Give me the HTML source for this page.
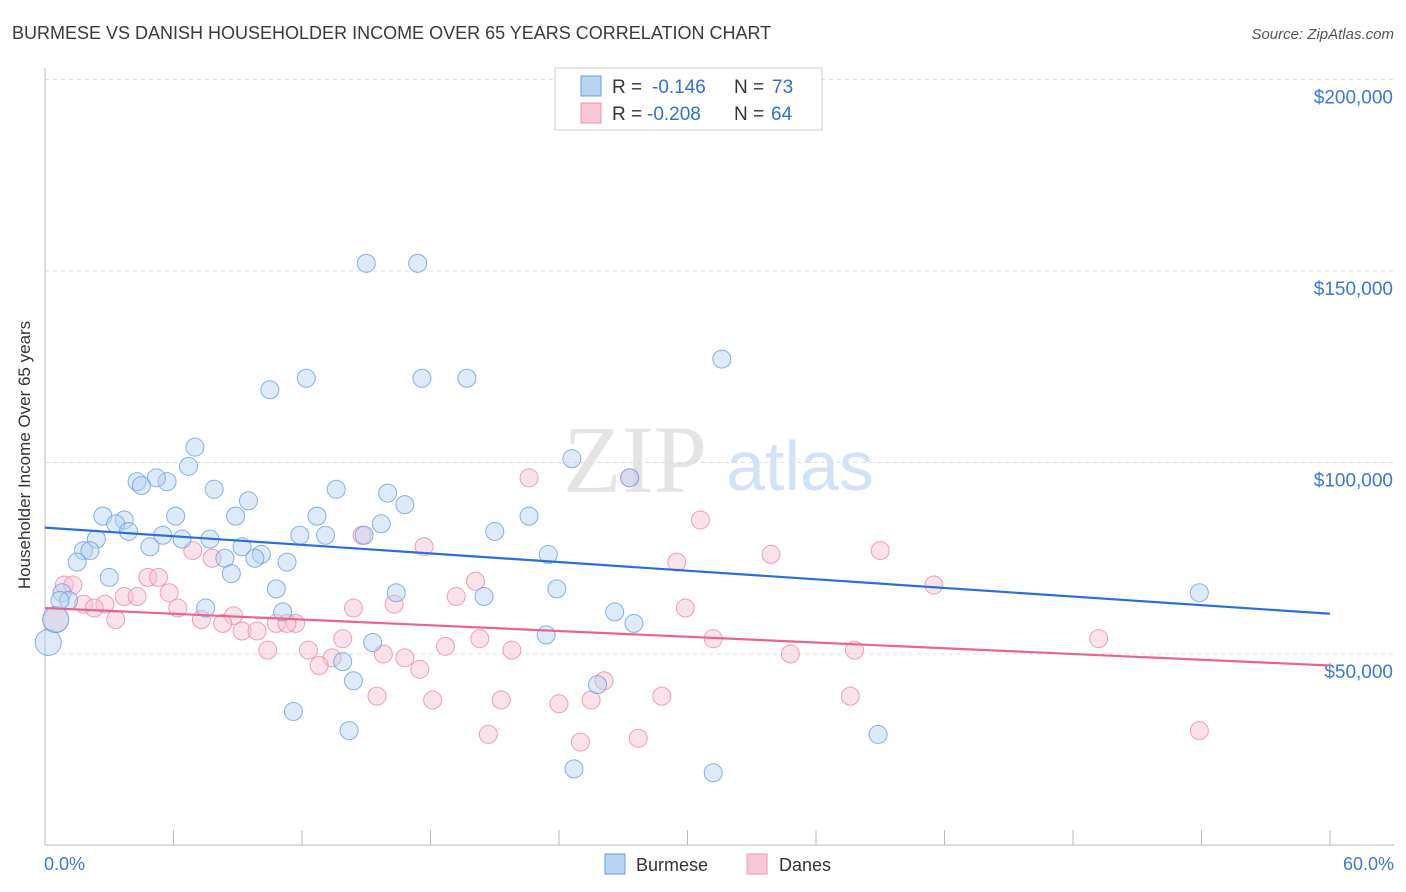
<!DOCTYPE html>
<html><head><meta charset="utf-8"><style>
body{margin:0;background:#fff;font-family:"Liberation Sans",sans-serif;}
svg{display:block}
</style></head><body>
<svg id="chart" width="1406" height="892" xmlns="http://www.w3.org/2000/svg">
<text x="12" y="39" font-size="18" fill="#3a3a3a">BURMESE VS DANISH HOUSEHOLDER INCOME OVER 65 YEARS CORRELATION CHART</text>
<text x="1394" y="39" font-size="15" fill="#555" text-anchor="end" font-style="italic">Source: ZipAtlas.com</text>
<text x="30" y="455" font-size="17" fill="#333" text-anchor="middle" transform="rotate(-90 30 455)">Householder Income Over 65 years</text>
<g><text x="635" y="492" font-size="96" fill="#e4e4e4" text-anchor="middle" font-family="Liberation Serif,serif">ZIP</text><text x="800" y="490" font-size="70" fill="#d3e2f4" text-anchor="middle">atlas</text></g>
<g id="grid"></g><g id="pts"></g><g id="lines"></g>
<g>
<rect x="555" y="68" width="267" height="62" fill="#fff" stroke="#ccc"/>
<rect x="581" y="76" width="20" height="20" fill="#b9d3f3" stroke="#6a9ee0"/>
<rect x="581" y="103" width="20" height="20" fill="#f8c8d6" stroke="#ec94ae"/>
<text x="612" y="93" font-size="19" fill="#333">R =</text><text x="652" y="93" font-size="19" fill="#2f6fd6">-0.146</text>
<text x="734" y="93" font-size="19" fill="#333">N =</text><text x="772" y="93" font-size="19" fill="#2f6fd6">73</text>
<text x="612" y="120" font-size="19" fill="#333">R =</text><text x="647" y="120" font-size="19" fill="#2f6fd6">-0.208</text>
<text x="734" y="120" font-size="19" fill="#333">N =</text><text x="771" y="120" font-size="19" fill="#2f6fd6">64</text>
</g>
<g>
<rect x="605" y="854" width="20" height="20" fill="#b9d3f3" stroke="#6a9ee0"/><text x="636" y="871" font-size="18" fill="#333">Burmese</text>
<rect x="747" y="854" width="20" height="20" fill="#f8c8d6" stroke="#ec94ae"/><text x="779" y="871" font-size="18" fill="#333">Danes</text>
</g>
</svg>
<script>
const xTickLabels=["0.0%","60.0%"];
const yTickValues=[50,100,150,200];
const yTickLabels=["$50,000","$100,000","$150,000","$200,000"];
const burmeseX=[15.0,17.4,31.6,12.2,17.6,19.7,10.5,7.0,24.6,6.7,27.3,4.3,5.7,5.2,4.5,7.9,13.6,9.5,16.0,16.8,8.9,6.1,12.7,2.7,3.7,3.3,15.7,22.6,3.9,5.5,21.0,11.9,13.1,14.9,2.4,6.4,7.7,4.9,1.8,2.1,9.2,10.1,9.8,8.4,23.5,1.5,11.3,8.7,3.0,10.8,23.9,16.4,53.9,0.8,20.5,1.1,7.5,11.1,26.6,27.5,23.4,15.3,0.15,0.5,13.9,14.4,25.8,11.6,14.2,38.9,24.7,31.2,0.7];
const burmeseY=[152,152,127,122,122,122,119,104,101,99,96,95,95,96,94,93,93,90,92,89,86,86,86,86,85,84,84,86,82,81,82,81,81,81,80,80,80,78,77,77,78,76,75,75,76,74,74,71,70,67,67,66,66,66,65,64,62,61,61,58,55,53,53,59,48,43,42,35,30,29,20,19,64];
const danesX=[22.6,27.3,30.6,17.7,6.9,39.0,33.9,14.8,29.5,7.8,4.8,5.3,20.1,41.5,0.9,1.3,5.8,3.7,4.3,19.2,1.8,2.8,2.3,6.2,16.3,14.4,29.9,8.8,3.3,7.3,8.3,10.8,11.7,11.3,0.5,9.2,9.9,13.9,20.3,31.2,49.2,12.3,21.8,37.8,15.8,16.8,13.4,10.4,34.8,12.8,17.5,18.7,15.5,21.3,24.0,18.1,28.8,37.6,25.5,26.1,20.7,25.0,27.7,53.9];
const danesY=[96,96,85,78,77,77,76,81,74,75,70,70,69,68,68,68,66,65,65,65,63,63,62,62,63,62,62,60,59,59,58,58,58,58,59,56,56,54,54,54,54,51,51,51,50,49,49,51,50,47,46,52,39,38,37,38,39,39,38,43,29,27,28,30];
const trendB=[83,60.5], trendD=[62,47];
const X=v=>45+v/60*1285, Y=v=>845.5-v*191.5/50;
const NS="http://www.w3.org/2000/svg";
function mk(tag,at,parent){const e=document.createElementNS(NS,tag);for(const k in at)e.setAttribute(k,at[k]);document.getElementById(parent).appendChild(e);return e;}
let ax=mk('line',{x1:45,y1:845,x2:1394,y2:845,stroke:'#bbb'},'grid');


let ay=mk('line',{x1:45,y1:68,x2:45,y2:845,stroke:'#bbb'},'grid');


for(let i=0;i<=10;i++){const t=mk('line',{x1:X(i*6),x2:X(i*6),y1:830,y2:845,stroke:'#bbb'},'grid');

}
yTickValues.forEach((v,i)=>{const g=mk('line',{x1:45,x2:1394,y1:Y(v),y2:Y(v),stroke:'#ddd','stroke-dasharray':'4 4'},'grid');


const t=mk('text',{x:1393,y:Y(v)+24,'font-size':19,fill:'#3a78d8','text-anchor':'end'},'grid');t.textContent=yTickLabels[i];

});
[[0,'start',44],[60,'end',1394]].forEach((d,i)=>{const t=mk('text',{x:d[2],y:870,'font-size':18,fill:'#3a78d8','text-anchor':d[1]},'grid');t.textContent=xTickLabels[i];

});
function pts(xs,ys,fill,stroke,name){xs.forEach((x,i)=>{const r=(x<0.6)?13:9;const c=mk('circle',{cx:X(x),cy:Y(ys[i]),r:r,fill:fill,stroke:stroke,'stroke-width':1,'fill-opacity':0.45,'stroke-opacity':0.8},'pts');

});}
pts(danesX,danesY,'#f7bfd0','#e88aa8','danes-point');
pts(burmeseX,burmeseY,'#b5d0f2','#6a9ee0','burmese-point');
let lb=mk('line',{x1:X(0),y1:Y(trendB[0]),x2:X(60),y2:Y(trendB[1]),stroke:'#2a6fd6','stroke-width':2.2},'lines');


let ld=mk('line',{x1:X(0),y1:Y(trendD[0]),x2:X(60),y2:Y(trendD[1]),stroke:'#e8648e','stroke-width':2.2},'lines');


</script>
</body></html>
